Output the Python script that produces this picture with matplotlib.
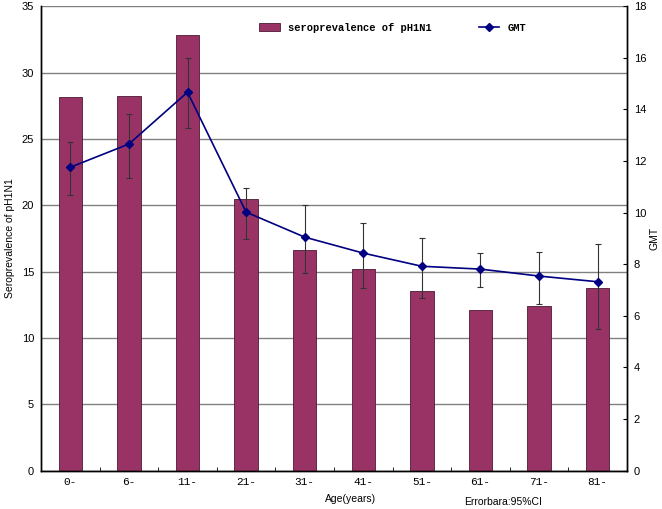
import numpy as np
import matplotlib.pyplot as plt

# data
ages = ['0-', '6-', '11-', '21-', '31-', '41-', '51-', '61-', '71-', '81-']
seroprev = [28.2, 28.25, 32.8, 20.5, 16.6, 15.2, 13.5, 12.1, 12.4, 13.75]
gmt = [11.76, 12.66, 14.67, 10.02, 9.05, 8.43, 7.92, 7.81, 7.54, 7.32]
gmt_low = [10.68, 11.34, 13.28, 8.97, 7.66, 7.07, 6.69, 7.12, 6.45, 5.48]
gmt_high = [12.73, 13.82, 15.99, 10.95, 10.29, 9.59, 9.03, 8.45, 8.47, 8.80]

plt.rcParams['font.family'] = ['Liberation Sans', 'DejaVu Sans']

fig = plt.figure(figsize=(6.62, 5.09), dpi=100)
ax = fig.add_axes([0.062, 0.0756, 0.885, 0.912])
ax2 = ax.twinx()

x = np.arange(len(ages))
ax.bar(x, seroprev, width=0.4, color='#993366', edgecolor='#4d1a33',
       linewidth=0.6, zorder=2, label='seroprevalence of pH1N1')
ax.set_ylim(0, 35)
ax.set_yticks(np.arange(0, 36, 5))
ax.set_xlim(-0.5, len(ages) - 0.5)
ax.yaxis.grid(True, color='#808080', linewidth=1.0, zorder=0)
ax.set_axisbelow(True)

ax.set_xticks(x)
ax.set_xticklabels(ages, family='Liberation Mono', fontsize=8)
ax.set_xticks(np.arange(0.5, len(ages) - 0.5, 1), minor=True)
ax.tick_params(axis='x', which='major', length=0, pad=5)
ax.tick_params(axis='x', which='minor', direction='in', length=3)
ax.tick_params(axis='y', direction='in', length=0, labelsize=8, pad=5)
ax.set_ylabel('Seroprevalence of pH1N1', fontsize=7.5, labelpad=5)

yerr = [np.array(gmt) - np.array(gmt_low), np.array(gmt_high) - np.array(gmt)]
ax2.errorbar(x, gmt, yerr=yerr, fmt='none', ecolor='#333333', elinewidth=0.8,
             capsize=2.5, capthick=0.8, zorder=3)
ax2.plot(x, gmt, color='#000080', marker='D', markersize=4, linewidth=1.2,
         zorder=4, label='GMT')
ax2.set_ylim(0, 18)
ax2.set_yticks(np.arange(0, 19, 2))
ax2.tick_params(axis='y', direction='in', length=3, labelsize=8, pad=5)
ax2.set_ylabel('GMT', fontsize=7.5, labelpad=2)

for a in (ax, ax2):
    a.spines['top'].set_visible(False)
    for s in ('left', 'right', 'bottom'):
        a.spines[s].set_linewidth(1.0)

h1, l1 = ax.get_legend_handles_labels()
h2, l2 = ax2.get_legend_handles_labels()
ax2.legend(h1 + h2, l1 + l2, loc='upper center', bbox_to_anchor=(0.6, 0.985),
           ncol=2, frameon=False, columnspacing=4.5, handlelength=2.0,
           handleheight=0.7, prop={'family': 'Liberation Mono', 'size': 7.5,
                                   'weight': 'bold'})

fig.text(0.53, 0.014, 'Age(years)', ha='center', fontsize=7.5)
fig.text(0.76, 0.008, 'Errorbara:95%CI', ha='center', fontsize=7.5)

plt.savefig('out.png')
plt.close()
